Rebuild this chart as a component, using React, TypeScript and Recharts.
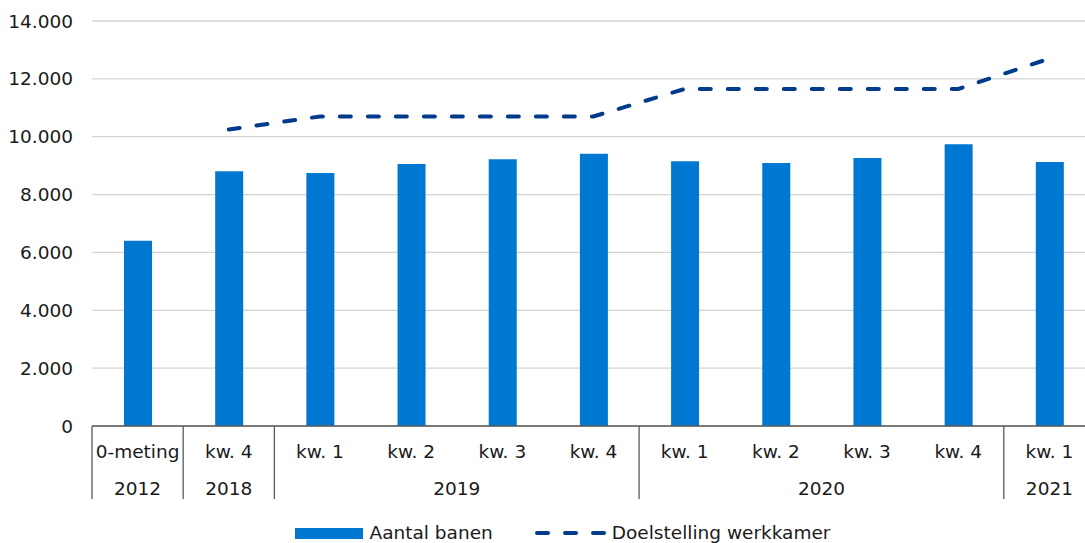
import React from 'react';
import { ComposedChart, Bar, Line, XAxis, YAxis, CartesianGrid, Legend } from 'recharts';

const quarters = ['0-meting', 'kw. 4', 'kw. 1', 'kw. 2', 'kw. 3', 'kw. 4', 'kw. 1', 'kw. 2', 'kw. 3', 'kw. 4', 'kw. 1'];
const years = ['2012', '2018', '2019', '2019', '2019', '2019', '2020', '2020', '2020', '2020', '2021'];
const aantalBanen = [6400, 8810, 8750, 9060, 9220, 9410, 9150, 9090, 9260, 9740, 9130];
const doelstelling: (number | null)[] = [null, 10250, 10700, 10700, 10700, 10700, 11650, 11650, 11650, 11650, 12700];
const yTicks = [0, 2000, 4000, 6000, 8000, 10000, 12000, 14000];

const data = quarters.map((q, i) => ({
  key: `${years[i]} ${q}`,
  quarter: q,
  year: years[i],
  banen: aantalBanen[i],
  doel: doelstelling[i],
}));

const CHART_W = 1100;
const CHART_H = 543;
const LEGEND_H = 22;
const MARGIN = { top: 21, right: 5, left: 0, bottom: 37 - LEGEND_H };
const YAXIS_W = 92;
const PLOT_W = CHART_W - MARGIN.left - MARGIN.right - YAXIS_W;
const BAND = PLOT_W / quarters.length;
const FONT = '"DejaVu Sans", Verdana, sans-serif';
const FS = 18.5;
const BAR_COLOR = '#0078D2';
const LINE_COLOR = '#003B8C';
const AXIS_COLOR = '#595959';
const TEXT_COLOR = '#1a1a1a';

const fmt = (n: number) => String(n).replace(/\B(?=(\d{3})+(?!\d))/g, '.');

const QuarterTick = (props: any) => {
  const { x, y, index } = props;
  const i = index as number;
  const isGroupStart = i === 0 || years[i] !== years[i - 1];
  let groupSize = 0;
  if (isGroupStart) {
    let j = i;
    while (j < years.length && years[j] === years[i]) { groupSize++; j++; }
  }
  const left = x - BAND / 2;
  return (
    <g>
      <text x={x} y={y + 25} textAnchor="middle" dominantBaseline="central" fontFamily={FONT} fontSize={FS} fill={TEXT_COLOR}>
        {quarters[i]}
      </text>
      {isGroupStart && (
        <>
          <line x1={left} y1={y} x2={left} y2={y + 73} stroke={AXIS_COLOR} strokeWidth={1.3} />
          <text x={left + (groupSize * BAND) / 2} y={y + 62} textAnchor="middle" dominantBaseline="central" fontFamily={FONT} fontSize={FS} fill={TEXT_COLOR}>
            {years[i]}
          </text>
        </>
      )}
    </g>
  );
};

const LegendContent = () => (
  <div style={{ display: 'flex', alignItems: 'center', justifyContent: 'center', width: 1125, height: LEGEND_H, fontFamily: FONT, fontSize: FS, color: TEXT_COLOR, lineHeight: '22px' }}>
    <div style={{ display: 'flex', alignItems: 'center' }}>
      <div style={{ width: 68, height: 11, background: BAR_COLOR, marginRight: 7 }} />
      <span>Aantal banen</span>
    </div>
    <div style={{ display: 'flex', alignItems: 'center', marginLeft: 42 }}>
      <svg width={72} height={12} style={{ marginRight: 5 }}>
        <line x1={2} y1={6} x2={70} y2={6} stroke={LINE_COLOR} strokeWidth={4} strokeDasharray="11 17" strokeLinecap="round" />
      </svg>
      <span>Doelstelling werkkamer</span>
    </div>
  </div>
);

export default function App() {
  return (
    <div style={{ position: 'absolute', left: 0, top: 0, width: 1085, height: 543, overflow: 'hidden', background: '#fff', fontFamily: FONT }}>
      <ComposedChart width={CHART_W} height={CHART_H} data={data} margin={MARGIN}>
        <CartesianGrid vertical={false} stroke="#d4d4d4" strokeWidth={1.3} />
        <XAxis
          dataKey="key"
          height={80}
          tickLine={false}
          tickSize={0}
          tickMargin={0}
          interval={0}
          stroke={AXIS_COLOR}
          strokeWidth={1.3}
          tick={<QuarterTick />}
        />
        <YAxis
          width={YAXIS_W}
          domain={[0, 14000]}
          ticks={yTicks}
          axisLine={false}
          tickLine={false}
          tickMargin={13}
          tickFormatter={fmt}
          tick={{ fontFamily: FONT, fontSize: FS, fill: TEXT_COLOR }}
        />
        <Bar dataKey="banen" name="Aantal banen" fill={BAR_COLOR} barSize={28} isAnimationActive={false} />
        <Line
          dataKey="doel"
          name="Doelstelling werkkamer"
          type="linear"
          stroke={LINE_COLOR}
          strokeWidth={4}
          strokeDasharray="11 17"
          strokeLinecap="round"
          dot={false}
          activeDot={false}
          connectNulls={false}
          isAnimationActive={false}
        />
        <Legend content={<LegendContent />} wrapperStyle={{ position: 'absolute', left: 0, top: 522, width: 1125, height: LEGEND_H }} />
      </ComposedChart>
    </div>
  );
}
